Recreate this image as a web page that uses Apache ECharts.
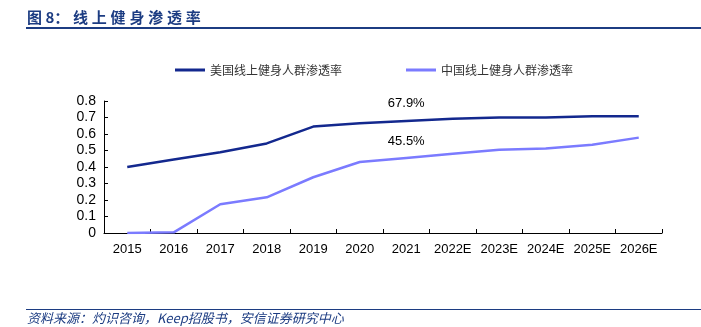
<!DOCTYPE html>
<html><head><meta charset="utf-8">
<script src="https://cdn.jsdelivr.net/npm/echarts@6/dist/echarts.min.js"></script>
<style>html,body{margin:0;padding:0;background:#fff}#c{width:701px;height:327px}</style>
</head><body><div id="c"></div>
<script>
var categories = ['2015','2016','2017','2018','2019','2020','2021','2022E','2023E','2024E','2025E','2026E'];
var usValues = [0.40,0.445,0.49,0.543,0.645,0.665,0.679,0.692,0.70,0.70,0.708,0.708];
var cnValues = [0.0,0.004,0.174,0.216,0.338,0.43,0.455,0.48,0.505,0.512,0.535,0.578];
var usName = '美国线上健身人群渗透率';
var cnName = '中国线上健身人群渗透率';
var labelIndex = 6;
var titlePrefix = '图 8：';
var titleRest = '线上健身渗透率';
var sourceText = '资料来源：灼识咨询，Keep招股书，安信证券研究中心';

var chart = echarts.init(document.getElementById('c'), null, {renderer:'canvas'});
function labelData(vals){
  return vals.map(function(v,i){
    if(i===labelIndex){return {value:v,label:{show:true,formatter:(v*100).toFixed(1)+'%'}};}
    return v;
  });
}
var titleColor = '#1c3c82';
var graphics = [
  {type:'text',left:27,top:10,style:{text:titlePrefix,font:'bold 15px "Noto Sans CJK SC", sans-serif',fill:titleColor}},
  {type:'rect',shape:{x:26,y:27,width:675,height:2},style:{fill:titleColor}},
  {type:'rect',shape:{x:26,y:309,width:675,height:1},style:{fill:titleColor}},
  {type:'text',left:27,top:312,style:{text:sourceText,font:'italic 13px "Noto Sans CJK SC", sans-serif',fill:titleColor}}
];
titleRest.split('').forEach(function(ch,i){
  graphics.push({type:'text',left:73+i*18.8,top:10,style:{text:ch,font:'bold 15px "Noto Sans CJK SC", sans-serif',fill:titleColor}});
});
chart.setOption({
  animation:false,
  graphic:graphics,
  legend:{
    top:59,left:170,itemGap:64,itemWidth:30,itemHeight:3,
    icon:'rect',
    textStyle:{fontSize:12,color:'#333',fontFamily:'"Noto Sans CJK SC", sans-serif'},
    data:[usName,cnName]
  },
  grid:{left:104,right:39,top:101,bottom:94},
  xAxis:{
    type:'category',data:categories,boundaryGap:true,
    axisLine:{lineStyle:{color:'#000',width:1}},
    axisTick:{show:true,inside:true,length:4,lineStyle:{color:'#000'}},
    axisLabel:{interval:0,color:'#000',fontSize:13,margin:10,fontFamily:'Arial, "Liberation Sans", sans-serif'},
    splitLine:{show:false}
  },
  yAxis:{
    type:'value',min:0,max:0.8,interval:0.1,
    axisLine:{show:true,lineStyle:{color:'#000',width:1}},
    axisTick:{show:true,inside:true,length:4,lineStyle:{color:'#000'}},
    axisLabel:{color:'#000',fontSize:14,margin:8,fontFamily:'Arial, "Liberation Sans", sans-serif',
      formatter:function(v){return String(Math.round(v*10)/10);}},
    splitLine:{show:false}
  },
  series:[
    {name:usName,type:'line',data:labelData(usValues),symbol:'circle',symbolSize:0,showSymbol:true,
     lineStyle:{color:'#13288e',width:2.5},itemStyle:{color:'#13288e'},
     label:{show:false,position:'top',distance:11,color:'#000',fontSize:13,fontFamily:'Arial, sans-serif'}},
    {name:cnName,type:'line',data:labelData(cnValues),symbol:'circle',symbolSize:0,showSymbol:true,
     lineStyle:{color:'#7b7bff',width:2.5},itemStyle:{color:'#7b7bff'},
     label:{show:false,position:'top',distance:10,color:'#000',fontSize:13,fontFamily:'Arial, sans-serif'}}
  ]
});
</script></body></html>
